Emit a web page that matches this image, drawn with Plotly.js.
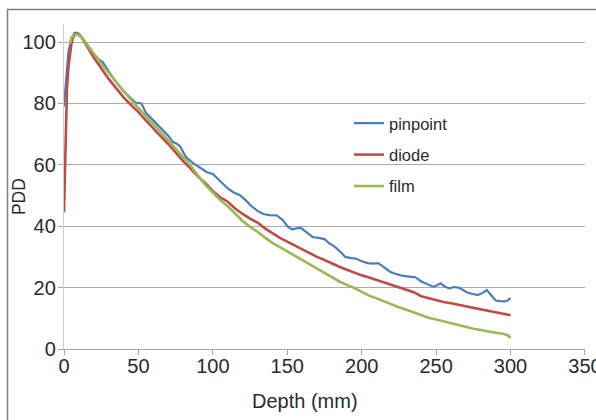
<!DOCTYPE html>
<html>
<head>
<meta charset="utf-8">
<script src="https://cdn.plot.ly/plotly-3.0.1.min.js"></script>
<style>
html,body{margin:0;padding:0;background:#fff;}
#chart{width:596px;height:420px;}
</style>
</head>
<body>
<div id="chart"></div>
<script>
// Depth (mm) and PDD values
const pinpointDepth = [0,1,2,3,5,7,9,12,15,20,23,26,30,35,40,45,48,52,55,60,65,70,73,76,78,82,86,90,93,96,100,105,110,114,118,122,126,130,134,138,143,147,150,153,156,159,163,167,171,175,178,182,186,189,193,196,200,204,208,211,214,219,224,228,232,236,240,244,248,250,253,256,259,262,265,268,271,274,278,281,284,287,290,293,296,298,300];
const pinpointPDD = [79,86,93,97,101,103,103,101.5,99.5,96,94.5,93.5,90.5,87,84,81.5,80.3,80,77,74.5,72,69.5,67.5,66.8,66,62.5,60.8,59.5,58.3,57.6,57,54.5,52.3,51,50.2,48.5,46.5,45,44,43.6,43.5,42,40,39,39.3,39.5,38,36.5,36.2,35.8,34.5,33.3,31.5,30,29.6,29.5,28.6,28,27.8,28,27,25.2,24.3,23.8,23.6,23.4,22,21.2,20.3,20.6,21.4,20.3,19.8,20.2,20,19.2,18.4,18,17.6,18.2,19.2,17.5,15.8,15.6,15.5,15.8,16.6];

const diodeDepth = [0,0.5,1,1.5,2,3,4,5,6,8,10,12,15,20,25,30,35,40,45,50,55,60,65,70,75,80,85,90,95,100,105,110,115,120,125,130,135,140,145,150,155,160,165,170,175,180,185,190,195,200,205,210,215,220,225,230,235,240,245,250,255,260,265,270,275,280,285,290,295,300];
const diodePDD = [44.6,55,68,78,85,92,96.5,99.5,101.5,102.8,102.5,101.5,99,95,91.5,88,85,82,79.5,77.2,74.5,71.8,69.3,66.8,64,61.2,58.8,56.2,54,51.5,49.4,48,45.8,44,42.5,41.2,39.3,37.8,36.2,35,33.7,32.5,31.2,30,29,27.8,26.8,25.8,24.8,24,23.3,22.5,21.6,20.8,20,19.2,18.5,17.2,16.5,15.9,15.3,14.9,14.5,13.9,13.4,13,12.5,12,11.5,11];

const filmDepth = [4,5,7,9,12,15,20,25,30,35,40,45,50,55,60,65,70,75,80,85,90,95,100,105,110,115,120,125,130,135,140,145,150,155,160,165,170,175,180,185,190,195,200,205,210,215,220,225,230,235,240,245,250,255,260,265,270,275,280,285,290,295,298,300];
const filmPDD = [99.5,101.5,102.5,102.5,101.5,99.5,96,93,90,87,84,81.2,78.5,76,73.3,70.7,68,65.3,62.5,59.8,56.5,53.5,51,48.5,46.5,44.2,41.7,39.8,38.2,36.3,34.6,33.2,31.8,30.2,28.9,27.4,26.2,24.8,23.4,22,20.9,19.9,18.6,17.4,16.5,15.5,14.5,13.6,12.8,11.9,11.1,10.2,9.6,9,8.4,7.7,7.1,6.6,6.2,5.7,5.3,5,4.5,3.6];

const xTicks = [0,50,100,150,200,250,300,350];
const yTicks = [0,20,40,60,80,100];
const xTitle = 'Depth (mm)';
const yTitle = 'PDD';

const FONT = '"Liberation Sans", Arial, sans-serif';
const textColor = '#2b2b2b';

const traces = [
  {x: pinpointDepth, y: pinpointPDD, name: 'pinpoint', legendgroup: 'a', mode: 'lines', line: {color: '#4A7EBB', width: 2.2}},
  {x: diodeDepth, y: diodePDD, name: 'diode', legendgroup: 'b', mode: 'lines', line: {color: '#BE4B48', width: 2.6}},
  {x: filmDepth, y: filmPDD, name: 'film', legendgroup: 'c', mode: 'lines', line: {color: '#98B954', width: 2.6}}
];

const layout = {
  width: 596, height: 420,
  margin: {l: 64, r: 11, t: 24, b: 71},
  paper_bgcolor: '#ffffff', plot_bgcolor: '#ffffff',
  font: {family: FONT, color: textColor},
  showlegend: true,
  legend: {
    x: 0.547, y: 0.748, xanchor: 'left', yanchor: 'top',
    font: {family: FONT, size: 16.5, color: textColor},
    bgcolor: 'rgba(0,0,0,0)', itemwidth: 30, tracegroupgap: 7
  },
  xaxis: {
    range: [0, 350.01], tickvals: xTicks, ticktext: xTicks.map(String),
    showgrid: false, zeroline: false,
    showline: true, linecolor: '#a6a6a6', linewidth: 1.2,
    ticks: 'outside', ticklen: 5, tickcolor: '#a6a6a6',
    ticklabeloverflow: 'allow', ticklabelstandoff: -6,
    tickfont: {family: FONT, size: 20, color: textColor}
  },
  yaxis: {
    range: [0, 105.9], tickvals: yTicks, ticktext: yTicks.map(String),
    showgrid: true, gridcolor: '#ababab', gridwidth: 1.2, zeroline: false,
    showline: true, linecolor: '#cfcfcf', linewidth: 1.2,
    ticks: 'outside', ticklen: 5, tickcolor: '#a6a6a6',
    ticklabelstandoff: -2,
    tickfont: {family: FONT, size: 20, color: textColor}
  },
  annotations: [
    {text: xTitle, xref: 'paper', yref: 'paper', x: 0.4635, y: -0.16, xanchor: 'center', yanchor: 'middle',
     showarrow: false, font: {family: FONT, size: 20, color: textColor}},
    {text: yTitle, xref: 'paper', yref: 'paper', x: -0.0873, y: 0.469, xanchor: 'center', yanchor: 'middle',
     textangle: -90, showarrow: false, font: {family: FONT, size: 17.5, color: textColor}}
  ],
  shapes: [
    {type: 'rect', xref: 'paper', yref: 'paper', x0: -0.1084, x1: 1.05, y0: -0.3, y1: 1.0446,
     line: {color: '#7f7f7f', width: 1.5}, fillcolor: 'rgba(0,0,0,0)', layer: 'below'}
  ]
};

Plotly.newPlot('chart', traces, layout, {displayModeBar: false, staticPlot: true});
</script>
</body>
</html>
